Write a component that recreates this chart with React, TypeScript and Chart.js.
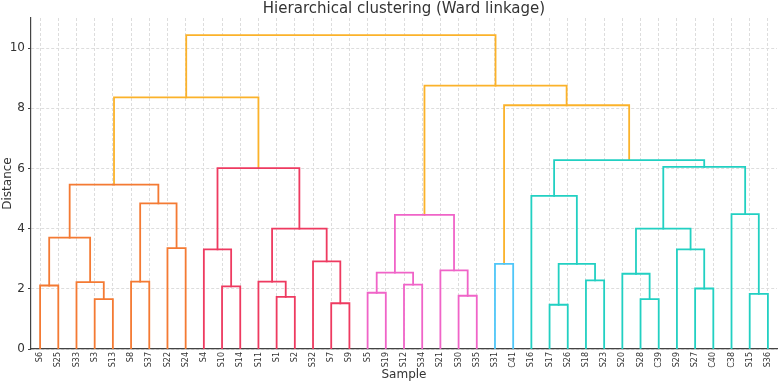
import { useEffect, useRef } from "react";
import { Chart, registerables } from "chart.js";

Chart.register(...registerables);

// Leaf order along the x axis
const leaves = [
  "S6", "S25", "S33", "S3", "S13", "S8", "S37", "S22", "S24",
  "S4", "S10", "S14", "S11", "S1", "S2", "S32", "S7", "S9",
  "S5", "S19", "S12", "S34", "S21", "S30", "S35",
  "S31", "C41",
  "S16", "S17", "S26", "S18", "S23", "S20", "S28", "C39", "S29", "S27", "C40", "C38", "S15", "S36",
];

// Linkage: node ids below leaves.length are leaves, id leaves.length + k is merge k
const mergeLeft = [
  0, 3, 2, 41, 5, 7, 45, 44,
  10, 9, 13, 12, 16, 15, 52, 50, 48,
  18, 20, 58, 23, 22, 60,
  25,
  28, 30, 65, 27, 33, 32, 36, 35, 70, 39, 38, 73, 68,
  64, 63, 57,
];
const mergeRight = [
  1, 4, 42, 43, 6, 8, 46, 47,
  11, 49, 14, 51, 17, 53, 54, 55, 56,
  19, 21, 59, 24, 61, 62,
  26,
  29, 31, 66, 67, 34, 69, 37, 71, 72, 40, 74, 75, 76,
  77, 78, 79,
];
const mergeHeight = [
  2.11, 1.66, 2.22, 3.70, 2.24, 3.35, 4.84, 5.46,
  2.08, 3.31, 1.73, 2.24, 1.52, 2.91, 4.00, 6.01, 8.36,
  1.87, 2.14, 2.54, 1.77, 2.61, 4.46,
  2.83,
  1.47, 2.28, 2.83, 5.09, 1.66, 2.50, 2.01, 3.31, 4.00, 1.83, 4.48, 6.05, 6.28,
  8.10, 8.75, 10.43,
];

// Flat clusters (consecutive leaves) below the colour threshold
const clusterSizes = [9, 9, 7, 2, 14];
const clusterColors = ["#f47a33", "#ee3a60", "#f064c8", "#4fc6f8", "#22d0c2"];
const aboveThresholdColor = "#fbb22a";
const colorThreshold = 7;

const yTicks = [0, 2, 4, 6, 8, 10];

function buildLinks() {
  const n = leaves.length;
  const xs: number[] = leaves.map((_, i) => i);
  const hs: number[] = leaves.map(() => 0);
  const firstLeaf: number[] = leaves.map((_, i) => i);
  const clusterOfLeaf: number[] = [];
  clusterSizes.forEach((size, c) => {
    for (let k = 0; k < size; k++) clusterOfLeaf.push(c);
  });
  const links: { points: { x: number; y: number }[]; color: string }[] = [];
  mergeHeight.forEach((h, k) => {
    const a = mergeLeft[k];
    const b = mergeRight[k];
    const id = n + k;
    xs[id] = (xs[a] + xs[b]) / 2;
    hs[id] = h;
    firstLeaf[id] = Math.min(firstLeaf[a], firstLeaf[b]);
    const color =
      h > colorThreshold ? aboveThresholdColor : clusterColors[clusterOfLeaf[firstLeaf[id]]];
    links.push({
      color,
      points: [
        { x: xs[a], y: hs[a] },
        { x: xs[a], y: h },
        { x: xs[b], y: h },
        { x: xs[b], y: hs[b] },
      ],
    });
  });
  return links;
}

export default function App() {
  const canvasRef = useRef<HTMLCanvasElement | null>(null);

  useEffect(() => {
    const canvas = canvasRef.current;
    if (!canvas) return;
    const font = "'DejaVu Sans', sans-serif";
    const links = buildLinks();

    const chart = new Chart(canvas, {
      type: "line",
      data: {
        datasets: links.map((l) => ({
          data: l.points,
          borderColor: l.color,
          borderWidth: 1.8,
          pointRadius: 0,
          fill: false,
          tension: 0,
          borderCapStyle: "square" as const,
        })),
      },
      options: {
        responsive: false,
        animation: false,
        layout: { padding: { left: 1, right: 4, top: 0, bottom: 0 } },
        plugins: {
          legend: { display: false },
          tooltip: { enabled: false },
          title: {
            display: true,
            fullSize: false,
            text: "Hierarchical clustering (Ward linkage)",
            color: "#333333",
            font: { family: font, size: 15, weight: "normal" },
            padding: { top: 0, bottom: 0 },
          },
        },
        scales: {
          x: {
            type: "linear",
            min: -0.5,
            max: 40.5,
            afterBuildTicks: (scale: any) => {
              scale.ticks = leaves.map((_, i) => ({ value: i }));
            },
            afterFit: (scale: any) => {
              scale.height = 33;
              scale.paddingLeft = 0;
              scale.paddingRight = 0;
            },
            ticks: {
              autoSkip: false,
              minRotation: 90,
              maxRotation: 90,
              padding: 3,
              color: "#333333",
              font: { family: font, size: 8 },
              callback: (v: any) => leaves[Math.round(Number(v))] ?? "",
            },
            grid: {
              color: "#dddddd",
              lineWidth: 1,
              drawTicks: false,
            },
            border: { display: true, color: "#444444", width: 1.2, dash: [3, 2] },
            title: {
              display: true,
              text: "Sample",
              color: "#333333",
              font: { family: font, size: 12 },
              padding: { top: 0, bottom: 0 },
            },
          },
          y: {
            type: "linear",
            min: 0,
            max: 11,
            afterBuildTicks: (scale: any) => {
              scale.ticks = yTicks.map((v) => ({ value: v }));
            },
            afterFit: (scale: any) => {
              scale.width = 30;
            },
            ticks: {
              color: "#333333",
              font: { family: font, size: 12 },
              padding: 3,
            },
            grid: {
              color: "#dddddd",
              lineWidth: 1,
              tickColor: "#444444",
              tickLength: 3,
            },
            border: { display: true, color: "#444444", width: 1.2, dash: [3, 2] },
            title: {
              display: true,
              text: "Distance",
              color: "#333333",
              font: { family: font, size: 12 },
              padding: { top: 0, bottom: 0 },
            },
          },
        },
      },
    });

    return () => chart.destroy();
  }, []);

  return (
    <div style={{ position: "fixed", left: 0, top: 0, width: 781, height: 382, background: "#ffffff" }}>
      <canvas ref={canvasRef} width={781} height={382} />
    </div>
  );
}
